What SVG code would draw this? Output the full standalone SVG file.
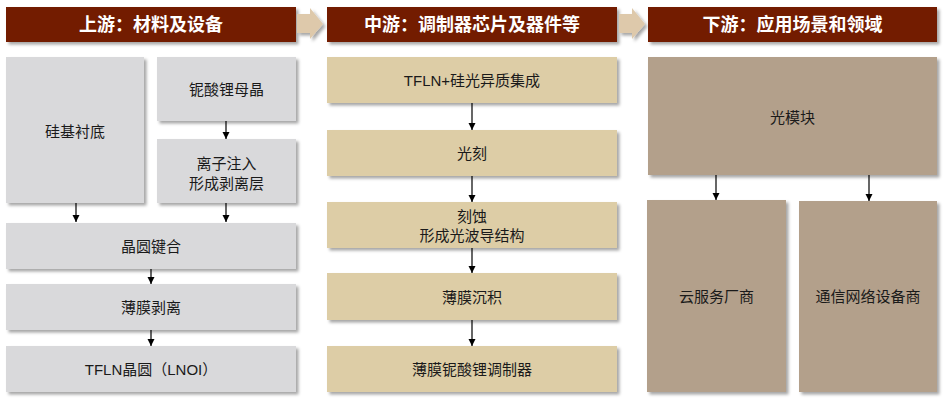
<svg xmlns="http://www.w3.org/2000/svg" width="949" height="402" viewBox="0 0 949 402">
<style>
text{font-family:"Liberation Sans","Noto Sans CJK SC",sans-serif;text-anchor:middle;dominant-baseline:central}
.h{fill:#731E00}
.ht{fill:#fff;font-size:18px;font-weight:bold}
.g{fill:#D9D9DB}
.b{fill:#DDCDA6}
.t{fill:#B3A08B}
.bt{fill:#1a1a1a;font-size:15px}
.c line{stroke:#000;stroke-width:1.2}
.ha{fill:#DEC9AB}
</style>
<defs>
<filter id="sh" x="-10%" y="-10%" width="130%" height="130%">
<feDropShadow dx="2.5" dy="2.5" stdDeviation="1.5" flood-color="#000" flood-opacity="0.35"/>
</filter>
<marker id="ar" markerUnits="userSpaceOnUse" markerWidth="8" markerHeight="8" refX="7" refY="4" orient="auto">
<path d="M0,0.5 L7,4 L0,7.5 Z" fill="#000"/>
</marker>
</defs>

<g id="headers">
<g id="h1"><rect class="h" x="6" y="7" width="290" height="35" filter="url(#sh)"/><text class="ht" x="151" y="24.5">上游：材料及设备</text></g>
<polygon id="ha1" class="ha" filter="url(#sh)" points="297,14 310,14 310,8 323,24 310,39 310,33 297,33"/>
<g id="h2"><rect class="h" x="327" y="7" width="290" height="35" filter="url(#sh)"/><text class="ht" x="472" y="24.5">中游：调制器芯片及器件等</text></g>
<polygon id="ha2" class="ha" filter="url(#sh)" points="619,14 632,14 632,8 645,24 632,39 632,33 619,33"/>
<g id="h3"><rect class="h" x="648" y="7" width="289" height="35" filter="url(#sh)"/><text class="ht" x="792.5" y="24.5">下游：应用场景和领域</text></g>
</g>

<g id="n-si"><rect class="g" x="6" y="57" width="138" height="146" filter="url(#sh)"/><text class="bt" x="75" y="131">硅基衬底</text></g>
<g id="n-ln"><rect class="g" x="157" y="57" width="139" height="64" filter="url(#sh)"/><text class="bt" x="226.5" y="89">铌酸锂母晶</text></g>
<g id="n-ion"><rect class="g" x="157" y="139" width="139" height="64" filter="url(#sh)"/><text class="bt" x="226.5" y="163">离子注入</text><text class="bt" x="226.5" y="183">形成剥离层</text></g>
<g id="n-bond"><rect class="g" x="6" y="223" width="290" height="46" filter="url(#sh)"/><text class="bt" x="151" y="246">晶圆键合</text></g>
<g id="n-peel"><rect class="g" x="6" y="284" width="290" height="46" filter="url(#sh)"/><text class="bt" x="151" y="307">薄膜剥离</text></g>
<g id="n-wafer"><rect class="g" x="6" y="346" width="290" height="46" filter="url(#sh)"/><text class="bt" x="151" y="369">TFLN晶圆（LNOI）</text></g>

<g id="m-1"><rect class="b" x="327" y="57" width="290" height="46" filter="url(#sh)"/><text class="bt" x="472" y="80">TFLN+硅光异质集成</text></g>
<g id="m-2"><rect class="b" x="327" y="130" width="290" height="46" filter="url(#sh)"/><text class="bt" x="472" y="153">光刻</text></g>
<g id="m-3"><rect class="b" x="327" y="202" width="290" height="46" filter="url(#sh)"/><text class="bt" x="472" y="216">刻蚀</text><text class="bt" x="472" y="235">形成光波导结构</text></g>
<g id="m-4"><rect class="b" x="327" y="273" width="290" height="47" filter="url(#sh)"/><text class="bt" x="472" y="297">薄膜沉积</text></g>
<g id="m-5"><rect class="b" x="327" y="346" width="290" height="46" filter="url(#sh)"/><text class="bt" x="472" y="369">薄膜铌酸锂调制器</text></g>

<g id="d-1"><rect class="t" x="648" y="57" width="289" height="118" filter="url(#sh)"/><text class="bt" x="792.5" y="117">光模块</text></g>
<g id="d-2"><rect class="t" x="647" y="200" width="139" height="192" filter="url(#sh)"/><text class="bt" x="716.5" y="296">云服务厂商</text></g>
<g id="d-3"><rect class="t" x="799" y="201" width="138" height="191" filter="url(#sh)"/><text class="bt" x="868" y="296">通信网络设备商</text></g>

<g id="connectors" class="c">
<line x1="226" y1="121" x2="226" y2="139" marker-end="url(#ar)"/>
<line x1="76" y1="203" x2="76" y2="222" marker-end="url(#ar)"/>
<line x1="226" y1="203" x2="226" y2="222" marker-end="url(#ar)"/>
<line x1="151" y1="269" x2="151" y2="284" marker-end="url(#ar)"/>
<line x1="151" y1="330" x2="151" y2="346" marker-end="url(#ar)"/>
<line x1="472" y1="103" x2="472" y2="130" marker-end="url(#ar)"/>
<line x1="472" y1="176" x2="472" y2="202" marker-end="url(#ar)"/>
<line x1="472" y1="248" x2="472" y2="273" marker-end="url(#ar)"/>
<line x1="472" y1="320" x2="472" y2="346" marker-end="url(#ar)"/>
<line x1="716" y1="175" x2="716" y2="200" marker-end="url(#ar)"/>
<line x1="869" y1="175" x2="869" y2="201" marker-end="url(#ar)"/>
</g>
</svg>
